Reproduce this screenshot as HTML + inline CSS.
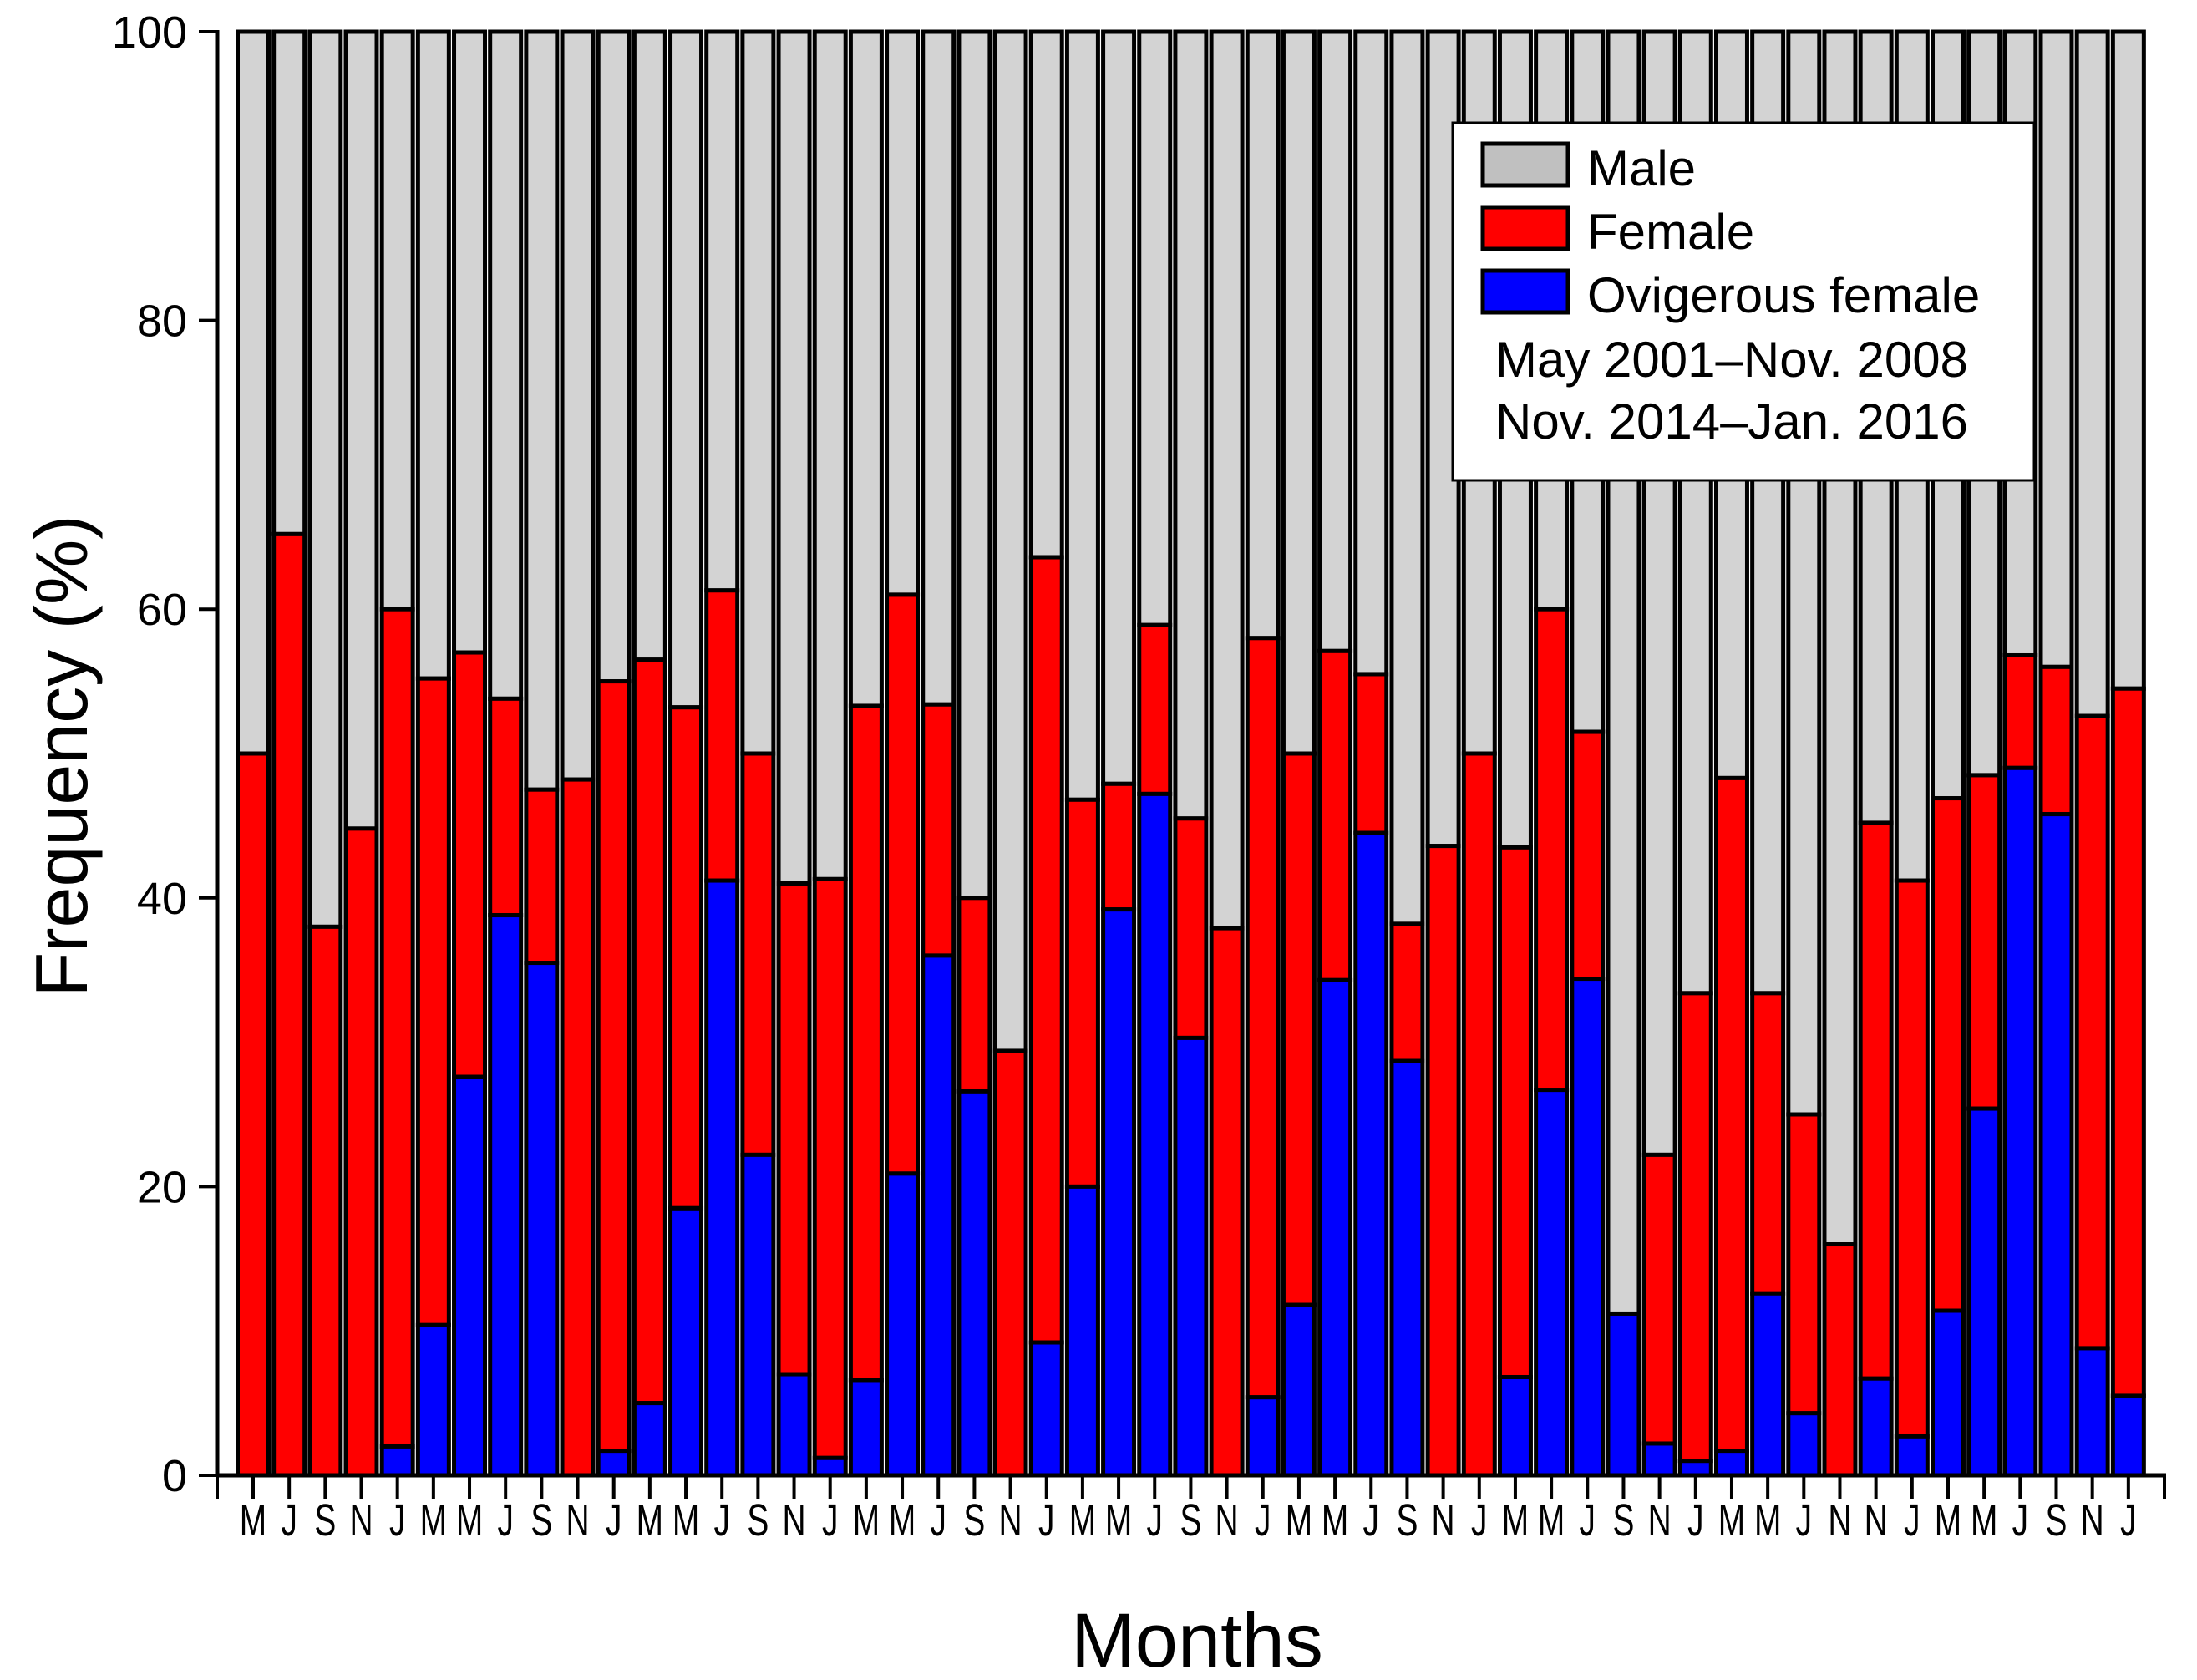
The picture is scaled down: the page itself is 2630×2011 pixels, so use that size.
<!DOCTYPE html>
<html><head><meta charset="utf-8"><style>
html,body{margin:0;padding:0;background:#fff;}
svg{display:block;font-family:"Liberation Sans","DejaVu Sans",sans-serif;}
</style></head><body>
<svg id="chart" width="2630" height="2011" viewBox="0 0 2630 2011" xmlns="http://www.w3.org/2000/svg">
<g id="bars"></g>
<g id="axes"></g>
<g id="legend">
  <rect x="1739" y="147" width="696" height="428" fill="#fff" stroke="#000" stroke-width="3"/>
  <rect x="1775" y="172" width="102" height="50" fill="#c0c0c0" stroke="#000" stroke-width="5"/>
  <text x="1900" y="222" font-size="60">Male</text>
  <rect x="1775" y="248" width="102" height="50" fill="#ff0000" stroke="#000" stroke-width="5"/>
  <text x="1900" y="298" font-size="60">Female</text>
  <rect x="1775" y="324" width="102" height="50" fill="#0000ff" stroke="#000" stroke-width="5"/>
  <text x="1900" y="374" font-size="60">Ovigerous female</text>
  <text x="1790" y="451" font-size="60">May 2001–Nov. 2008</text>
  <text x="1790" y="525" font-size="60">Nov. 2014–Jan. 2016</text>
</g>
<text x="1433" y="1995" font-size="92" text-anchor="middle">Months</text>
<text transform="translate(104,905) rotate(-90)" font-size="88" text-anchor="middle">Frequency (%)</text>
</svg>
<script>
const months = ["M","J","S","N","J","M","M","J","S","N","J","M","M","J","S","N","J","M","M","J","S","N","J","M","M","J","S","N","J","M","M","J","S","N","J","M","M","J","S","N","J","M","M","J","N","N","J","M","M","J","S","N","J"];
const femaleTotal = [50,65.2,38,44.8,60,55.2,57,53.8,47.5,48.2,55,56.5,53.2,61.3,50,41,41.3,53.3,61,53.4,40,29.4,63.6,46.8,47.9,58.9,45.5,37.9,58,50,57.1,55.5,38.2,43.6,50,43.5,60,51.5,11.2,22.2,33.4,48.3,33.4,25,16,45.2,41.2,46.9,48.5,56.8,56,52.6,54.5];
const ovigerous = [0,0,0,0,2,10.4,27.6,38.8,35.5,0,1.7,5,18.5,41.2,22.2,7,1.2,6.6,20.9,36,26.6,0,9.2,20,39.2,47.2,30.3,0,5.4,11.8,34.3,44.5,28.7,0,0,6.8,26.7,34.4,11.2,2.2,1,1.7,12.6,4.3,0,6.7,2.7,11.4,25.4,49,45.8,8.8,5.5];
const yTicks = [0,20,40,60,80,100];

const NS="http://www.w3.org/2000/svg";
const X0=260, X1=2591, Y0=1766, Y100=38, firstC=303, pitch=43.17, bw=37;
const y = v => Y0 - (Y0-Y100)*v/100;
const xc = i => firstC + i*pitch;
function mk(tag, attrs, parent){const e=document.createElementNS(NS,tag);for(const k in attrs)e.setAttribute(k,attrs[k]);parent.appendChild(e);return e;}
const bars=document.getElementById('bars'), axes=document.getElementById('axes');
months.forEach((m,i)=>{
  const x=xc(i)-bw/2;
  const segs=[[100,femaleTotal[i],'#d3d3d3','male'],[femaleTotal[i],ovigerous[i],'#ff0000','female'],[ovigerous[i],0,'#0000ff','ovigerous']];
  segs.forEach(s=>{
    if(s[0]-s[1]<=0) return;
    const r=mk('rect',{x:x,y:y(s[0]),width:bw,height:y(s[1])-y(s[0]),fill:s[2],stroke:'#000','stroke-width':5},bars);
    
    
  });
  const t=mk('line',{x1:xc(i),x2:xc(i),y1:Y0,y2:Y0+28,stroke:'#000','stroke-width':4},axes);
  
  
  const l=mk('text',{x:xc(i),y:Y0+72,'font-size':54,'text-anchor':'middle',transform:`translate(${xc(i)},0) scale(0.72,1) translate(${-xc(i)},0)`},axes);
  l.textContent=m;
  
  
});
[X0,X1].forEach(xx=>{const t=mk('line',{x1:xx,x2:xx,y1:Y0,y2:Y0+28,stroke:'#000','stroke-width':4},axes);
  
  });
yTicks.forEach(v=>{
  const t=mk('line',{x1:X0-22,x2:X0,y1:y(v),y2:y(v),stroke:'#000','stroke-width':4},axes);
  
  
  const l=mk('text',{x:X0-36,y:y(v)+19,'font-size':54,'text-anchor':'end'},axes);
  l.textContent=v;
  
  
});
const ya=mk('line',{x1:X0,x2:X0,y1:Y100-2,y2:Y0+2,stroke:'#000','stroke-width':5},axes);


const xa=mk('line',{x1:X0-2,x2:X1+2,y1:Y0,y2:Y0,stroke:'#000','stroke-width':5},axes);


</script>
</body></html>
